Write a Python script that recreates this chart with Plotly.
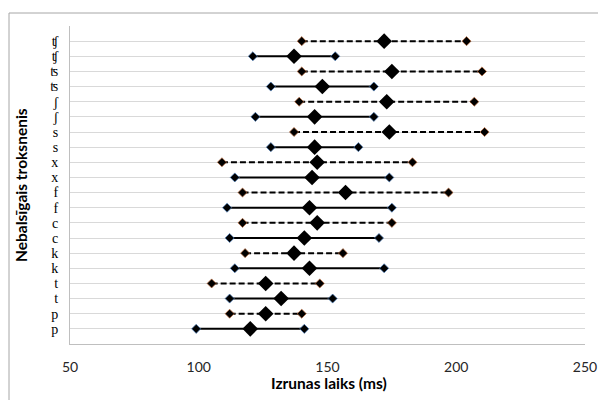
import plotly.graph_objects as go

# rows from bottom to top
labels = ["p", "p", "t", "t", "k", "k", "c", "c", "f", "f",
          "x", "x", "s", "s", "ʃ", "ʃ", "ʦ", "ʦ", "ʧ", "ʧ"]
mins  = [99, 112, 112, 105, 114, 118, 112, 117, 111, 117,
         114, 109, 128, 137, 122, 139, 128, 140, 121, 140]
means = [120, 126, 132, 126, 143, 137, 141, 146, 143, 157,
         144, 146, 145, 174, 145, 173, 148, 175, 137, 172]
maxs  = [141, 140, 152, 147, 172, 156, 170, 175, 175, 197,
         174, 183, 162, 211, 168, 207, 168, 210, 153, 204]
dashed = [False, True] * 10
x_ticks = [50, 100, 150, 200, 250]

fig = go.Figure()
for i in range(len(labels)):
    y = i + 1
    fig.add_trace(go.Scatter(
        x=[mins[i], means[i], maxs[i]], y=[y, y, y],
        mode="lines",
        line=dict(color="black", width=2, dash="6px,3px" if dashed[i] else "solid"),
        showlegend=False, hoverinfo="skip",
    ))
    edge = "#c07040" if dashed[i] else "#4f81bd"
    fig.add_trace(go.Scatter(
        x=[mins[i], maxs[i]], y=[y, y], mode="markers",
        marker=dict(symbol="diamond", size=7, color="#000000", opacity=1,
                    line=dict(color=edge, width=0.7)),
        showlegend=False, hoverinfo="x+y",
    ))
    fig.add_trace(go.Scatter(
        x=[means[i]], y=[y], mode="markers",
        marker=dict(symbol="diamond", size=12, color="#000000", opacity=1,
                    line=dict(color="#000000", width=0)),
        showlegend=False, hoverinfo="x+y",
    ))

tickvals = list(range(0, 22))
ticktext = [""] + labels + [""]

L, R, T, B = 70, 13, 26, 56
PW = 598 - L - R
PH = 400 - T - B

fig.update_layout(
    width=598, height=400,
    margin=dict(l=L, r=R, t=T, b=B, autoexpand=False),
    paper_bgcolor="white", plot_bgcolor="white",
    font=dict(family="Lato, Liberation Sans, sans-serif", color="black"),
    xaxis=dict(range=[50, 250], tickvals=x_ticks, showgrid=False, automargin=False,
               zeroline=False, showline=True, linecolor="#bfbfbf", linewidth=1,
               ticks="", tickfont=dict(size=14, family="Lato, Open Sans, sans-serif",
                                       color="#262626"),
               ticklabelstandoff=10, ticklabeloverflow="allow"),
    yaxis=dict(range=[0, 21], tickvals=tickvals, ticktext=ticktext, automargin=False,
               showgrid=True, gridcolor="#d9d9d9", gridwidth=1,
               zeroline=False, showline=True, linecolor="#bfbfbf", linewidth=1,
               ticks="", tickfont=dict(size=14, family="Liberation Serif, DejaVu Serif, serif"),
               ticklabelstandoff=8),
    shapes=[dict(type="rect", xref="paper", yref="paper",
                 x0=(9 - L) / PW, x1=(603 - L) / PW,
                 y0=(344 - 405) / PH, y1=(344 - 13) / PH,
                 line=dict(color="#a6a6a6", width=1), fillcolor="rgba(0,0,0,0)",
                 layer="below")],
    annotations=[
        dict(text="<b>Izrunas laiks (ms)</b>", xref="paper", yref="paper",
             x=(329 - L) / PW, y=(344 - 383) / PH, showarrow=False,
             font=dict(size=15.5, family="Lato, Open Sans, sans-serif"),
             xanchor="center", yanchor="middle"),
        dict(text="<b>Nebalsīgais troksnenis</b>", xref="paper", yref="paper",
             x=(21 - L) / PW, y=(344 - 185) / PH, showarrow=False,
             textangle=-90,
             font=dict(size=15.5, family="Lato, Open Sans, sans-serif"),
             xanchor="center", yanchor="middle"),
    ],
)

fig.write_html("out.html")
